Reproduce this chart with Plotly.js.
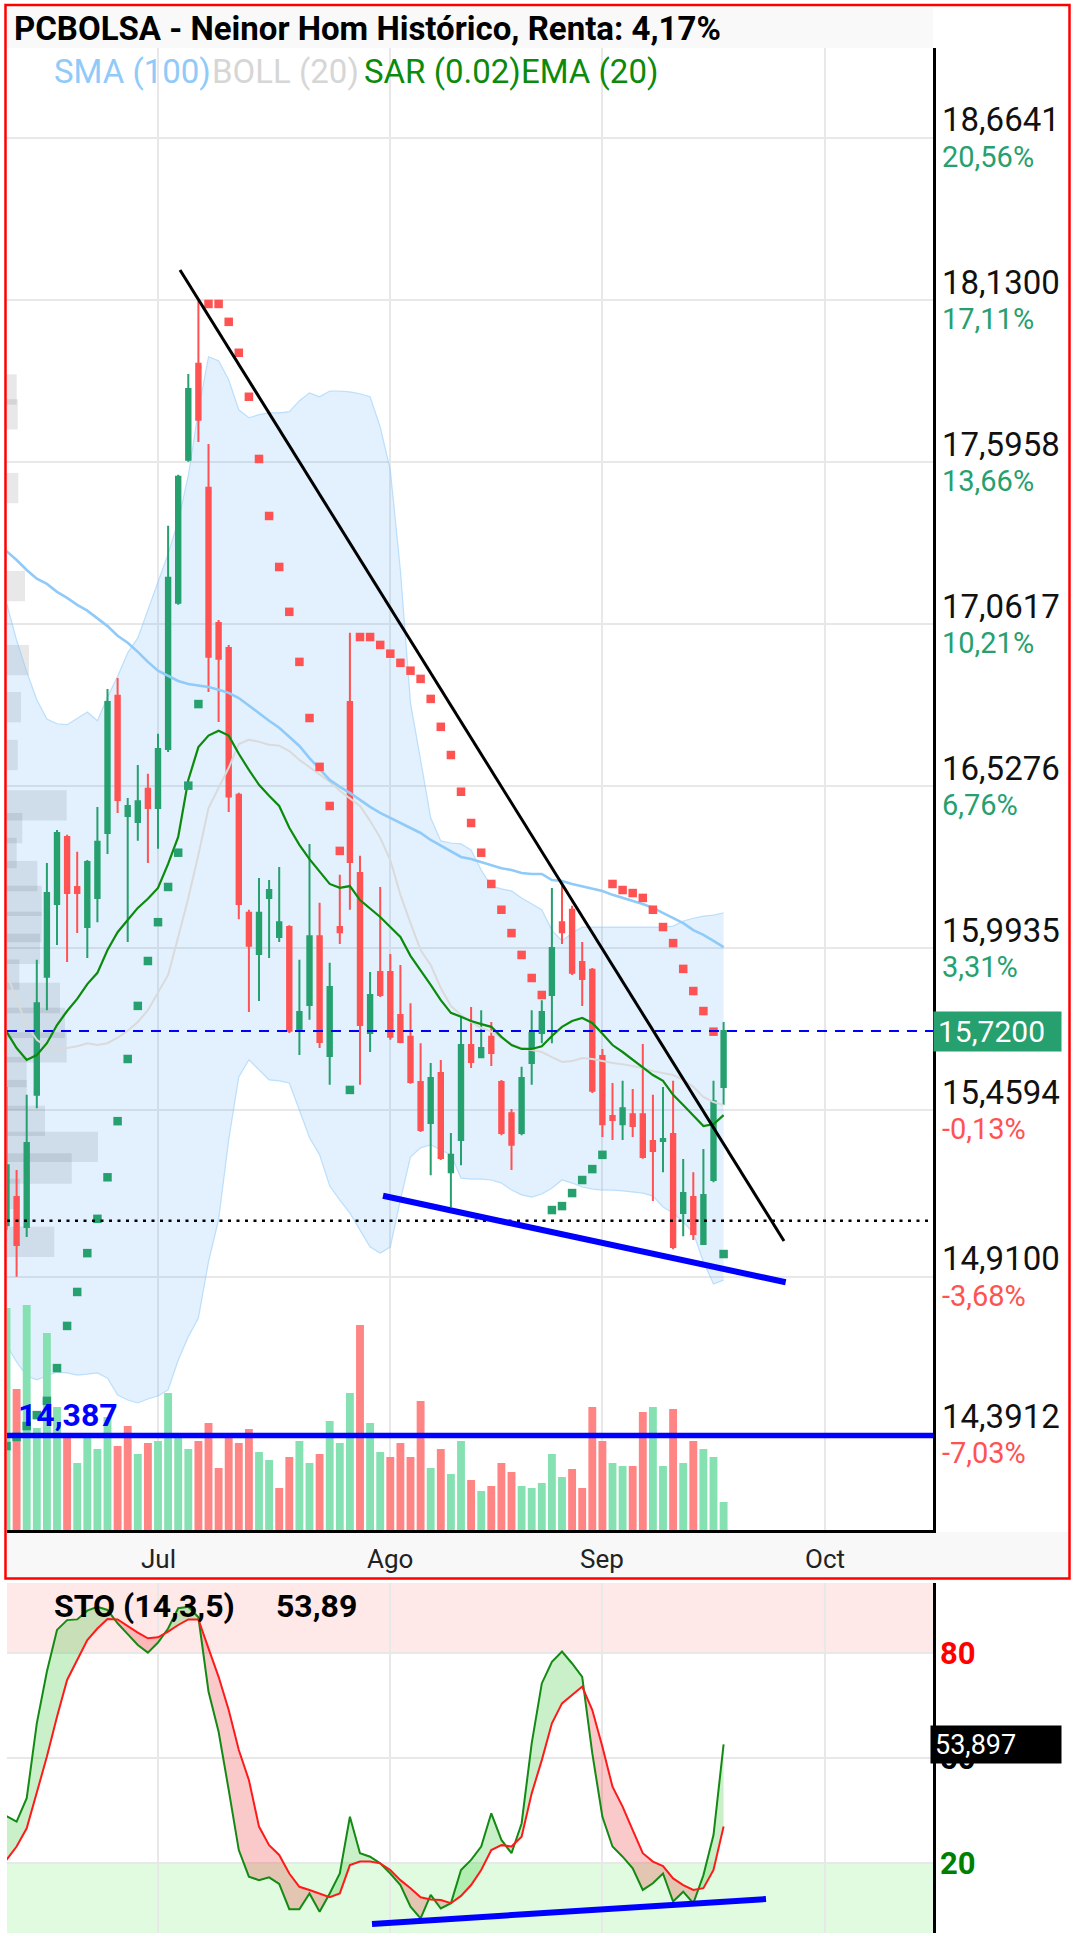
<!DOCTYPE html>
<html><head><meta charset="utf-8">
<script src="https://cdn.plot.ly/plotly-3.0.1.min.js"></script>
<style>html,body{margin:0;padding:0;background:#fff;}#chart{width:1076px;height:1936px;}</style>
</head><body><div id="chart"></div>
<script>
// ---------------- DATA ----------------
const titleText = 'PCBOLSA - Neinor Hom Histórico, Renta: 4,17%';
const months = ['Jul', 'Ago', 'Sep', 'Oct'];
const monthIdx = [15, 38, 59, 81];

const open = [15.080,15.173,15.074,15.510,15.899,16.139,16.360,16.195,16.063,16.159,
16.373,16.825,16.429,16.409,16.519,16.455,16.650,17.132,17.603,17.920,
17.511,17.065,16.983,16.499,16.110,15.974,16.159,16.030,16.063,15.724,
15.806,16.033,15.638,16.063,16.805,16.241,15.714,15.915,15.915,15.773,
15.701,15.552,15.417,15.582,15.255,15.361,15.674,15.634,15.701,15.552,
15.449,15.384,15.615,15.714,15.839,16.079,16.120,15.948,15.922,15.638,
15.440,15.413,15.446,15.446,15.358,15.358,15.381,15.120,15.173,15.018,
15.229,15.536];
const high = [15.536,15.262,15.510,15.955,16.274,16.383,16.367,16.311,16.284,16.459,
16.848,16.884,16.488,16.597,16.568,16.700,17.386,17.554,17.886,18.127,
17.655,17.075,16.993,16.506,16.120,16.225,16.218,16.261,16.069,15.955,
16.337,16.143,15.945,16.235,17.033,16.298,15.915,16.195,15.974,15.938,
15.812,15.680,15.615,15.625,15.384,15.773,15.799,15.789,15.750,15.559,
15.463,15.602,15.789,15.822,16.192,16.208,16.133,16.014,15.928,15.661,
15.549,15.556,15.529,15.677,15.510,15.536,15.556,15.298,15.255,15.331,
15.556,15.750];
const low = [15.064,14.910,15.041,15.466,15.789,16.004,15.948,16.043,15.961,16.079,
16.304,16.439,16.014,16.347,16.274,16.321,16.640,17.125,17.597,17.662,
16.838,16.739,16.442,16.089,15.783,15.819,15.961,16.014,15.714,15.641,
15.757,15.664,15.543,16.007,16.120,15.543,15.651,15.832,15.691,15.680,
15.546,15.387,15.245,15.295,15.140,15.278,15.598,15.631,15.605,15.377,
15.262,15.377,15.543,15.680,15.680,16.007,15.905,15.803,15.516,15.371,
15.361,15.361,15.371,15.299,15.160,15.255,15.001,15.044,15.031,15.015,
15.222,15.476];
const close = [15.278,15.015,15.351,15.812,16.175,16.373,16.175,16.175,16.277,16.344,
16.805,16.482,16.462,16.478,16.455,16.650,17.214,17.547,17.837,17.735,
16.954,16.947,16.493,16.139,16.001,16.110,16.185,16.079,15.721,15.783,
16.033,15.684,15.865,16.046,16.277,15.740,15.839,15.839,15.701,15.684,
15.552,15.394,15.565,15.302,15.312,15.674,15.618,15.664,15.648,15.384,
15.345,15.565,15.714,15.783,15.994,16.046,15.912,15.892,15.523,15.413,
15.427,15.466,15.407,15.305,15.325,15.364,15.008,15.186,15.051,15.180,
15.489,15.720];
// volume, thousands of shares
const volume = [222,141,225,102,197,123,93,67,93,81,
113,84,104,76,87,89,137,93,81,89,
107,62,93,87,101,78,70,42,73,89,
67,76,109,87,137,205,107,78,73,87,
73,129,62,81,56,89,50,39,44,67,
58,44,42,47,76,53,61,42,123,89,
67,64,64,118,123,64,121,67,89,81,
73,28];
const sar = [14.352,14.382,14.418,14.454,14.501,14.609,14.748,14.860,14.988,15.101,
15.238,15.423,15.628,15.803,15.951,16.079,16.195,16.308,16.529,16.798,
18.117,18.117,18.058,17.956,17.811,17.606,17.418,17.250,17.102,16.937,
16.752,16.591,16.462,16.314,15.526,17.019,17.019,16.993,16.964,16.934,
16.908,16.881,16.815,16.723,16.630,16.509,16.406,16.308,16.205,16.120,
16.043,15.971,15.895,15.839,15.130,15.143,15.186,15.229,15.265,15.312,
16.205,16.185,16.175,16.159,16.120,16.063,16.010,15.925,15.852,15.786,
15.718,14.985];
const ema20 = [15.718,15.664,15.625,15.641,15.680,15.740,15.786,15.826,15.875,15.912,
15.987,16.046,16.086,16.126,16.156,16.192,16.271,16.360,16.548,16.656,
16.694,16.710,16.694,16.634,16.581,16.532,16.496,16.462,16.390,16.334,
16.287,16.244,16.205,16.192,16.198,16.152,16.123,16.096,16.063,16.030,
15.968,15.922,15.872,15.822,15.780,15.767,15.753,15.743,15.734,15.701,
15.674,15.661,15.661,15.670,15.704,15.734,15.753,15.763,15.747,15.711,
15.674,15.651,15.625,15.598,15.575,15.556,15.510,15.476,15.440,15.407,
15.413,15.443];
const sma100 = [17.302,17.273,17.240,17.211,17.194,17.168,17.148,17.125,17.106,17.082,
17.055,17.023,17.000,16.970,16.937,16.908,16.890,16.874,16.864,16.858,
16.854,16.845,16.835,16.818,16.792,16.766,16.743,16.720,16.689,16.660,
16.620,16.584,16.548,16.525,16.505,16.482,16.459,16.439,16.423,16.406,
16.390,16.373,16.350,16.331,16.314,16.294,16.287,16.277,16.267,16.257,
16.251,16.241,16.238,16.238,16.218,16.215,16.205,16.198,16.189,16.182,
16.169,16.159,16.149,16.139,16.126,16.110,16.093,16.076,16.053,16.037,
16.017,15.997];
const bollUp = [17.132,17.009,16.905,16.812,16.749,16.733,16.730,16.752,16.772,16.743,
16.821,16.890,16.967,17.016,17.106,17.198,17.293,17.402,17.551,17.765,
17.943,17.930,17.867,17.768,17.742,17.752,17.758,17.758,17.762,17.798,
17.824,17.811,17.830,17.830,17.827,17.821,17.811,17.712,17.570,17.240,
16.802,16.614,16.423,16.347,16.340,16.337,16.317,16.251,16.198,16.189,
16.182,16.159,16.139,16.120,16.053,16.017,16.043,16.063,16.063,16.063,
16.063,16.063,16.063,16.063,16.063,16.063,16.066,16.083,16.092,16.099,
16.102,16.110];
const bollMid = [15.912,15.822,15.740,15.691,15.667,15.664,15.664,15.670,15.680,15.674,
15.680,15.698,15.721,15.750,15.789,15.845,15.905,16.030,16.159,16.301,
16.455,16.522,16.588,16.666,16.680,16.674,16.664,16.661,16.643,16.614,
16.591,16.568,16.542,16.512,16.488,16.462,16.413,16.357,16.284,16.169,
16.076,15.987,15.938,15.862,15.803,15.773,15.750,15.730,15.718,15.698,
15.677,15.664,15.657,15.651,15.634,15.618,15.621,15.631,15.628,15.621,
15.615,15.611,15.605,15.598,15.588,15.582,15.575,15.559,15.536,15.503,
15.486,15.476];
const bollLow = [14.685,14.629,14.583,14.570,14.583,14.596,14.593,14.586,14.589,14.593,
14.576,14.520,14.504,14.494,14.507,14.517,14.537,14.635,14.712,14.774,
14.959,15.098,15.361,15.569,15.625,15.592,15.559,15.556,15.549,15.459,
15.368,15.312,15.209,15.163,15.120,15.064,15.008,14.988,15.008,15.163,
15.305,15.335,15.345,15.328,15.312,15.235,15.232,15.232,15.229,15.219,
15.196,15.180,15.173,15.183,15.202,15.229,15.219,15.206,15.199,15.196,
15.196,15.193,15.189,15.186,15.176,15.140,15.120,15.091,15.054,14.959,
14.886,14.899];
const stoK = [33.4,31.8,38.5,59.9,74.7,86.6,89.4,89.6,92.1,93.2,
92.3,88.5,85.4,82.3,80.1,83.0,87.0,92.8,93.2,90.2,
69.0,57.5,40.9,23.7,16.1,15.1,15.9,14.0,6.8,6.8,
11.3,6.1,11.3,17.0,33.2,22.8,21.8,19.9,17.0,13.7,
7.5,4.2,10.9,7.0,8.5,18.0,20.9,24.7,34.2,26.6,
22.8,31.3,54.2,71.3,77.5,80.4,77.0,73.2,51.3,33.2,
24.7,21.8,18.5,12.3,14.2,17.0,9.0,11.8,8.5,16.5,
28.0,53.897];
const stoD = [20.9,24.7,29.9,39.9,50.4,61.8,72.3,78.0,83.7,87.0,
89.7,89.6,87.7,85.8,84.2,84.5,86.1,88.0,89.6,89.6,
81.3,73.2,63.7,52.3,43.7,30.4,25.1,22.3,17.0,13.2,
12.3,11.3,10.2,11.3,19.4,20.4,20.4,19.9,18.0,15.1,
12.8,10.2,9.6,9.4,8.5,10.6,13.7,18.0,23.7,25.1,
24.7,27.5,39.9,49.4,59.9,65.6,68.0,70.4,63.7,53.2,
41.8,36.1,29.4,22.8,20.4,19.1,15.6,13.7,12.3,12.8,
18.0,30.4];
// volume-at-price profile (price level, size in trading-day widths)
const profilePrice = [17.835,17.753,17.510,17.187,16.943,16.788,16.630,16.464,16.389,16.307,16.231,16.149,16.063,15.991,15.906,15.829,15.747,15.666,15.585,15.509,15.424,15.338,15.267,15.183,15.025];
const profileVol = [0.96,1.06,1.12,1.78,2.18,1.39,1.06,5.91,1.51,0.96,3.00,3.44,3.44,3.27,1.22,5.25,5.74,5.91,1.95,1.95,3.76,9.01,6.41,1.29,4.68];

const gridPrices = [18.6641,18.1300,17.5958,17.0617,16.5276,15.9935,15.4594,14.9100,14.3912];
const gridPriceText = ['18,6641','18,1300','17,5958','17,0617','16,5276','15,9935','15,4594','14,9100','14,3912'];
const gridPctText = ['20,56%','17,11%','13,66%','10,21%','6,76%','3,31%','-0,13%','-3,68%','-7,03%'];
const stoLevels = [20, 50, 80];

const dottedLevel = 15.095;
const supportLevel = 14.387;
const supportText = '14,387';
const lastCloseText = '15,7200';
const stoLastText = '53,897';
const stoTitle = 'STO (14,3,5)';
const stoShort = '53,89';
const trendDownX = [17.18, 76.98], trendDownY = [18.229, 15.028];
const supportX = [37.28, 77.15], supportY = [15.177, 14.892];
const stoTrendX = [36.19, 75.2], stoTrendY = [2.6, 9.7];

// ---------------- LAYOUT HELPERS ----------------
const W = 1076, H = 1936;
const px = v => v / W;
const py = v => 1 - v / H;
const FONT = 'Roboto, sans-serif';
const GREEN = '#26a06e', RED = '#ff5252';
const X_RANGE = [0.0495, 91.733];
const Y_RANGE = [14.0753, 18.9607];
const VOL_RANGE = [0, 1482];

const day = close.map((_, i) => i);
const volColors = close.map((c, i) => (i === 0 || c >= close[i - 1]) ? '#86e1b2' : '#ff8585');
const sarColors = sar.map((s, i) => s < close[i] ? GREEN : RED);

// stochastic fill with crossings
function crossSeries(a, b) {
  const xs = [], as = [], bs = [];
  for (let i = 0; i < a.length; i++) {
    xs.push(day[i]); as.push(a[i]); bs.push(b[i]);
    if (i < a.length - 1) {
      const d0 = a[i] - b[i], d1 = a[i + 1] - b[i + 1];
      if (d0 * d1 < 0) {
        const t = d0 / (d0 - d1);
        const v = a[i] + t * (a[i + 1] - a[i]);
        xs.push(day[i] + t); as.push(v); bs.push(v);
      }
    }
  }
  return { xs, as, bs };
}
const cs = crossSeries(stoK, stoD);
const kdMax = cs.as.map((v, i) => Math.max(v, cs.bs[i]));

const traces = [
  { type: 'scatter', mode: 'lines', x: day, y: bollUp, line: { color: 'rgba(144,202,249,0.55)', width: 1.2 }, xaxis: 'x', yaxis: 'y', hoverinfo: 'skip' },
  { type: 'scatter', mode: 'lines', x: day, y: bollLow, line: { color: 'rgba(144,202,249,0.55)', width: 1.2 }, fill: 'tonexty', fillcolor: 'rgba(33,150,243,0.13)', xaxis: 'x', yaxis: 'y', hoverinfo: 'skip' },
  { type: 'bar', orientation: 'h', y: profilePrice, x: profileVol, base: X_RANGE[0], width: 0.1, marker: { color: 'rgba(110,110,110,0.16)', line: { width: 0 } }, xaxis: 'x', yaxis: 'y', hoverinfo: 'skip' },
  { type: 'bar', x: day, y: volume, width: 0.78, marker: { color: volColors, line: { width: 0 } }, xaxis: 'x', yaxis: 'y2', hoverinfo: 'skip' },
  { type: 'scatter', mode: 'lines', x: day, y: bollMid, line: { color: '#dadada', width: 2 }, xaxis: 'x', yaxis: 'y4' },
  { type: 'scatter', mode: 'lines', x: day, y: sma100, line: { color: '#90caf9', width: 2.6 }, xaxis: 'x', yaxis: 'y4' },
  { type: 'scatter', mode: 'lines', x: day, y: ema20, line: { color: '#0b8a0b', width: 2.2 }, xaxis: 'x', yaxis: 'y4' },
  { type: 'candlestick', x: day, open: open, high: high, low: low, close: close, whiskerwidth: 0,
    increasing: { line: { color: GREEN, width: 2 }, fillcolor: GREEN },
    decreasing: { line: { color: RED, width: 2 }, fillcolor: RED }, xaxis: 'x', yaxis: 'y4' },
  { type: 'scatter', mode: 'markers', x: day, y: sar, marker: { symbol: 'square', size: 8.5, color: sarColors, line: { width: 0 } }, xaxis: 'x', yaxis: 'y4' },
  // stochastic
  { type: 'scatter', mode: 'lines', x: cs.xs, y: cs.bs, line: { width: 0 }, xaxis: 'x2', yaxis: 'y3', hoverinfo: 'skip' },
  { type: 'scatter', mode: 'lines', x: cs.xs, y: kdMax, line: { width: 0 }, fill: 'tonexty', fillcolor: 'rgba(60,200,60,0.28)', xaxis: 'x2', yaxis: 'y3', hoverinfo: 'skip' },
  { type: 'scatter', mode: 'lines', x: cs.xs, y: cs.as, line: { width: 0 }, xaxis: 'x2', yaxis: 'y3', hoverinfo: 'skip' },
  { type: 'scatter', mode: 'lines', x: cs.xs, y: kdMax, line: { width: 0 }, fill: 'tonexty', fillcolor: 'rgba(235,40,40,0.25)', xaxis: 'x2', yaxis: 'y3', hoverinfo: 'skip' },
  { type: 'scatter', mode: 'lines', x: day, y: stoK, line: { color: '#138a13', width: 2 }, xaxis: 'x2', yaxis: 'y3' },
  { type: 'scatter', mode: 'lines', x: day, y: stoD, line: { color: '#ff1a1a', width: 2 }, xaxis: 'x2', yaxis: 'y3' }
];

const shapes = [
  { type: 'rect', xref: 'paper', yref: 'paper', x0: px(7), x1: px(933), y0: py(48), y1: py(8), fillcolor: '#f9f9f9', line: { width: 0 }, layer: 'below' },
  { type: 'rect', xref: 'paper', yref: 'paper', x0: px(7), x1: px(1068), y0: py(1578), y1: py(1532), fillcolor: '#f8f8f8', line: { width: 0 }, layer: 'below' },
  { type: 'rect', xref: 'paper', yref: 'y3', x0: px(7), x1: px(933), y0: 80, y1: 100, fillcolor: 'rgba(255,0,0,0.09)', line: { width: 0 }, layer: 'below' },
  { type: 'rect', xref: 'paper', yref: 'y3', x0: px(7), x1: px(933), y0: 0, y1: 20, fillcolor: 'rgba(0,220,0,0.12)', line: { width: 0 }, layer: 'below' },
  { type: 'line', xref: 'paper', yref: 'y', x0: px(7), x1: px(933), y0: close[close.length - 1], y1: close[close.length - 1], line: { color: '#0000ff', width: 2, dash: '10px,8px' }, layer: 'above' },
  { type: 'line', xref: 'paper', yref: 'y', x0: px(7), x1: px(933), y0: dottedLevel, y1: dottedLevel, line: { color: '#000', width: 2.5, dash: '3px,5.5px' }, layer: 'above' },
  { type: 'line', xref: 'paper', yref: 'y', x0: px(7), x1: px(933), y0: supportLevel, y1: supportLevel, line: { color: '#0000ff', width: 5.5 }, layer: 'above' },
  { type: 'line', xref: 'x', yref: 'y', x0: trendDownX[0], x1: trendDownX[1], y0: trendDownY[0], y1: trendDownY[1], line: { color: '#000', width: 3 }, layer: 'above' },
  { type: 'line', xref: 'x', yref: 'y', x0: supportX[0], x1: supportX[1], y0: supportY[0], y1: supportY[1], line: { color: '#0000ff', width: 6 }, layer: 'above' },
  { type: 'line', xref: 'x2', yref: 'y3', x0: stoTrendX[0], x1: stoTrendX[1], y0: stoTrendY[0], y1: stoTrendY[1], line: { color: '#0000ff', width: 6 }, layer: 'above' },
  { type: 'rect', xref: 'paper', yref: 'paper', x0: px(5.5), x1: px(1069.5), y0: py(1578.5), y1: py(5), fillcolor: 'rgba(0,0,0,0)', line: { color: '#ff0000', width: 2.5 }, layer: 'above' }
];

const ann = [];
ann.push({ xref: 'paper', yref: 'paper', x: px(12), y: py(28), xanchor: 'left', yanchor: 'middle', showarrow: false,
  text: '<b>' + titleText + '</b>', font: { family: FONT, size: 33, color: '#000' } });
const legendItems = [
  { t: 'SMA (100)', c: '#90caf9', x: 52 },
  { t: 'BOLL (20)', c: '#d6d6d6', x: 210 },
  { t: 'SAR (0.02)', c: '#0b8a0b', x: 362 },
  { t: 'EMA (20)', c: '#0b8a0b', x: 519 }
];
legendItems.forEach(l => ann.push({ xref: 'paper', yref: 'paper', x: px(l.x), y: py(72), xanchor: 'left', yanchor: 'middle', showarrow: false,
  text: l.t, font: { family: FONT, size: 33, color: l.c } }));
gridPrices.forEach((p, k) => {
  ann.push({ xref: 'paper', yref: 'y', x: px(940), y: p, yshift: 18, xanchor: 'left', yanchor: 'middle', showarrow: false,
    text: gridPriceText[k], font: { family: FONT, size: 33, color: '#111' } });
  ann.push({ xref: 'paper', yref: 'y', x: px(940), y: p, yshift: -19, xanchor: 'left', yanchor: 'middle', showarrow: false,
    text: gridPctText[k], font: { family: FONT, size: 29, color: gridPctText[k].startsWith('-') ? RED : GREEN } });
});
ann.push({ xref: 'paper', yref: 'y', x: px(933), y: close[close.length - 1], xanchor: 'left', yanchor: 'middle', showarrow: false,
  text: lastCloseText, align: 'left', bgcolor: GREEN, borderpad: 4, width: 119, height: 31, font: { family: FONT, size: 30, color: '#fff' } });
ann.push({ xref: 'paper', yref: 'y', x: px(16), y: supportLevel, yshift: 20, xanchor: 'left', yanchor: 'middle', showarrow: false,
  text: '<b>' + supportText + '</b>', font: { family: FONT, size: 32, color: '#0000ff' } });
months.forEach((m, k) => ann.push({ xref: 'x', yref: 'paper', x: monthIdx[k], y: py(1559), xanchor: 'center', yanchor: 'middle', showarrow: false,
  text: m, font: { family: FONT, size: 26, color: '#222' } }));
ann.push({ xref: 'paper', yref: 'paper', x: px(52), y: py(1606), xanchor: 'left', yanchor: 'middle', showarrow: false,
  text: '<b>' + stoTitle + '</b>', font: { family: FONT, size: 32, color: '#000' } });
ann.push({ xref: 'paper', yref: 'paper', x: px(274), y: py(1606), xanchor: 'left', yanchor: 'middle', showarrow: false,
  text: '<b>' + stoShort + '</b>', font: { family: FONT, size: 32, color: '#000' } });
const stoLabelColors = { 20: '#008000', 50: '#000', 80: '#ff0000' };
stoLevels.forEach(v => ann.push({ xref: 'paper', yref: 'y3', x: px(938), y: v, xanchor: 'left', yanchor: 'middle', showarrow: false,
  text: '<b>' + v + '</b>', font: { family: FONT, size: 31, color: stoLabelColors[v] } }));
ann.push({ xref: 'paper', yref: 'y3', x: px(930), y: stoK[stoK.length - 1], xanchor: 'left', yanchor: 'middle', showarrow: false,
  text: stoLastText, align: 'left', bgcolor: '#000', borderpad: 4, width: 122, height: 29, font: { family: FONT, size: 27, color: '#fff' } });

const gridColor = '#e8e8e8';
const layout = {
  width: W, height: H,
  margin: { l: 0, r: 0, t: 0, b: 0, pad: 0 },
  paper_bgcolor: '#fff', plot_bgcolor: 'rgba(0,0,0,0)',
  showlegend: false, hovermode: false, dragmode: false,
  barmode: 'overlay', boxgap: 0.38,
  font: { family: FONT },
  xaxis: { domain: [px(7), px(933)], range: X_RANGE, anchor: 'y', tickvals: monthIdx, showticklabels: false, ticks: '',
    showgrid: true, gridcolor: gridColor, gridwidth: 2, zeroline: false, showline: true, linecolor: '#000', linewidth: 3,
    rangeslider: { visible: false }, fixedrange: true },
  yaxis: { domain: [py(1530), py(48)], range: Y_RANGE, anchor: 'x', side: 'right', tickvals: gridPrices, showticklabels: false, ticks: '',
    showgrid: true, gridcolor: gridColor, gridwidth: 2, zeroline: false, showline: true, linecolor: '#000', linewidth: 3, fixedrange: true },
  yaxis2: { overlaying: 'y', anchor: 'x', range: VOL_RANGE, visible: false, fixedrange: true },
  yaxis4: { overlaying: 'y', anchor: 'x', range: Y_RANGE, visible: false, fixedrange: true },
  xaxis2: { domain: [px(7), px(933)], range: X_RANGE, anchor: 'y3', tickvals: monthIdx, showticklabels: false, ticks: '',
    showgrid: true, gridcolor: gridColor, gridwidth: 2, zeroline: false, showline: false, fixedrange: true },
  yaxis3: { domain: [py(1933), py(1583)], range: [0, 100], anchor: 'x2', side: 'right', tickvals: stoLevels, showticklabels: false, ticks: '',
    showgrid: true, gridcolor: gridColor, gridwidth: 2, zeroline: false, showline: true, linecolor: '#000', linewidth: 3, fixedrange: true },
  shapes: shapes,
  annotations: ann
};

Plotly.newPlot('chart', traces, layout, { staticPlot: true, displayModeBar: false });
</script></body></html>
